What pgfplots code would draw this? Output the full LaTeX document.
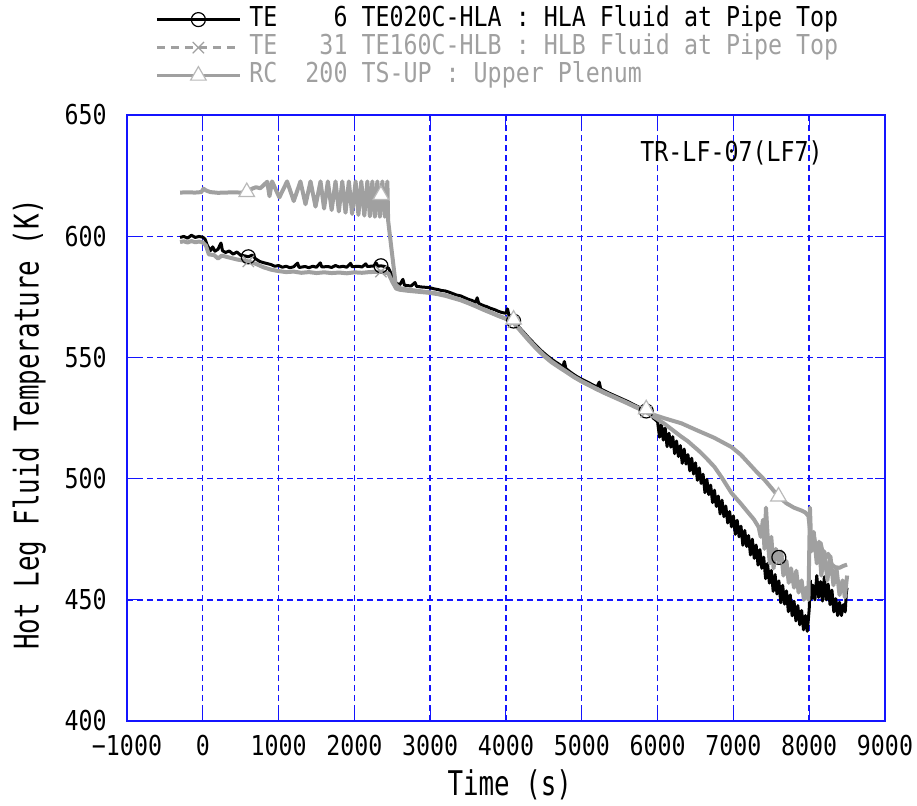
\documentclass[border=0pt]{standalone}
\usepackage{fontspec}
\setmainfont{DejaVu Sans Mono}[FakeStretch=0.85]
\newfontfamily\labfont{DejaVu Sans Mono}[FakeStretch=0.76]
\usepackage{pgfplots}
\pgfplotsset{compat=1.18}
\definecolor{lgray}{RGB}{160,160,160}
\definecolor{tgray}{RGB}{185,185,185}
\definecolor{gblue}{RGB}{20,20,255}
\frenchspacing
\begin{document}
\begin{tikzpicture}[font=\fontsize{13.7}{16}\selectfont]
\path[use as bounding box] (-63.5pt,-42pt) rectangle (395pt,360.5pt);
\begin{axis}[
  scale only axis,
  width=379pt, height=303pt,
  xmin=-1000, xmax=9000, ymin=400, ymax=650,
  xtick={-1000,0,...,9000},
  xticklabels={−1000,0,1000,2000,3000,4000,5000,6000,7000,8000,9000},
  ytick={400,450,...,650},
  /pgf/number format/assume math mode=true,
  axis line style={gblue, line width=0.6pt},
  tick style={gblue, line width=0.5pt},
  major tick length=5pt,
  grid=major,
  major grid style={color=gblue, line width=0.7pt, dash pattern=on 3pt off 2pt},
  xticklabel style={anchor=north, inner sep=0pt, yshift=-7pt},
  yticklabel style={anchor=east, inner sep=0pt, xshift=-10pt},
  xlabel={Time (s)},
  ylabel={Hot Leg Fluid Temperature (K)},
  xlabel style={at={(axis description cs:0.505,-0.106)}, anchor=center, font=\labfont\fontsize{17}{20}\selectfont},
  ylabel style={at={(axis description cs:-0.129,0.49)}, anchor=center, font=\labfont\fontsize{17}{20}\selectfont},
  legend style={at={(axis description cs:0,1)}, anchor=south west, xshift=14pt, yshift=13pt,
    draw=none, fill=none, inner sep=0pt, column sep=4pt, row sep=1pt,
    nodes={inner sep=0pt, text height=10pt, text depth=3pt, anchor=west}},
  legend cell align=left,
  legend image code/.code={\draw[mark repeat=2,mark phase=2,#1] plot coordinates {(0pt,0pt) (20.75pt,0pt) (41.5pt,0pt)};},
]
% TE 6 HLA
\addplot[black, line width=1.5pt, line join=round, forget plot] coordinates {
(-300,599.5) (-250,599.9) (-200,599.2) (-150,600.4) (-100,599.5) (-50,599.9) (0,599.6) (30,598.8) (60,596.2)
(100,594.0) (130,595.6) (160,593.8) (200,594.6) (240,597.2) (260,594.0) (300,593.3) (350,593.9) (400,592.6)
(450,593.5) (500,592.1) (550,591.9) (600,591.5) (650,592.2) (700,590.6) (750,589.6) (800,589.1) (850,588.7)
(900,588.3) (950,587.6) (1000,587.9) (1050,587.2) (1100,587.6) (1150,587.0) (1200,587.4) (1250,588.9)
(1270,587.1) (1350,587.5) (1400,587.0) (1450,587.6) (1500,587.2) (1550,589.0) (1570,587.3) (1650,587.5)
(1700,587.1) (1750,587.9) (1800,587.3) (1850,587.6) (1900,587.2) (1950,588.8) (1970,587.4) (2050,587.6)
(2100,587.3) (2150,588.6) (2170,587.5) (2250,587.7) (2290,588.9) (2310,587.6) (2350,587.8) (2400,587.5) (2450,586.8)
(2500,583.5) (2530,581.0) (2560,580.5) (2600,580.0) (2640,582.2) (2660,579.8) (2700,579.6) (2750,579.5)
(2800,580.9) (2820,579.3) (2850,579.2) (2900,579.0) (2950,578.9) (3000,578.7) (3050,578.3) (3100,578.0)
(3150,577.6) (3200,577.4) (3250,576.9) (3300,576.3) (3350,575.7) (3400,575.4) (3450,574.7) (3500,574.0)
(3550,573.5) (3600,572.8) (3620,574.6) (3640,572.3) (3700,571.4) (3750,570.9) (3800,570.2) (3850,569.7)
(3900,569.0) (3950,568.5) (4000,568.2) (4020,570.0) (4040,567.2) (4100,565.0) (4150,563.2) (4200,561.5)
(4250,559.8) (4300,558.0) (4350,556.4) (4400,554.8) (4450,553.2) (4500,551.8) (4550,550.5) (4600,549.3)
(4650,548.2) (4700,547.2) (4750,546.1) (4770,548.3) (4790,545.4) (4850,543.9) (4900,542.8) (4950,541.8)
(5000,541.0) (5050,540.2) (5100,539.4) (5150,538.6) (5200,537.8) (5230,539.8) (5250,537.0) (5300,536.2)
(5350,535.4) (5400,534.7) (5450,534.0) (5500,533.3) (5550,532.6) (5600,531.9) (5650,531.1) (5700,530.3)
(5750,529.5) (5800,528.7) (5850,527.9) (5900,526.5) (5950,524.8) (6000,523.5)
(6025,517.1) (6050,522.3) (6075,515.9) (6100,520.9) (6125,513.2) (6150,518.7) (6175,513.0) (6200,517.3)
(6225,510.3) (6250,515.5) (6275,509.1) (6300,513.6) (6325,506.3) (6350,512.2) (6375,506.0) (6400,509.9)
(6425,503.2) (6450,508.4) (6475,501.9) (6500,506.5) (6525,499.3) (6550,504.4) (6575,498.0) (6600,501.8)
(6625,494.2) (6650,499.7) (6675,493.4) (6700,497.3) (6725,490.1) (6750,495.2) (6775,488.5) (6800,492.8)
(6825,485.4) (6850,491.1) (6875,484.3) (6900,488.7) (6925,481.7) (6950,486.4) (6975,480.1) (7000,484.6)
(7025,477.0) (7050,482.8) (7075,476.0) (7100,480.4) (7125,472.5) (7150,478.6) (7175,472.0) (7200,476.5)
(7225,468.5) (7250,475.0) (7275,467.1) (7300,472.6) (7325,464.3) (7350,470.7) (7375,463.0) (7400,467.6)
(7425,458.7) (7450,465.0) (7475,456.9) (7500,462.1) (7525,453.5) (7550,460.4) (7575,452.4) (7600,457.8)
(7625,448.8) (7650,456.0) (7675,448.2) (7700,453.7) (7725,445.1) (7750,452.0) (7775,443.4) (7800,449.4)
(7825,441.3) (7850,447.6) (7875,439.7) (7900,445.6) (7925,437.6) (7950,443.5) (7975,437.0) (8000,446.0)
(8015,458.0) (8030,450.5) (8050,456.0) (8075,450.0) (8100,460.0) (8125,451.0) (8150,457.5) (8175,449.5)
(8200,459.5) (8225,450.0) (8250,456.5) (8275,448.0) (8300,454.0) (8325,445.0) (8350,450.5) (8375,443.5)
(8400,449.0) (8425,443.5) (8450,448.0) (8475,445.0) (8490,453.0) (8500,455.0)
};
% TE 31 HLB
\addplot[lgray, line width=2pt, line join=round, forget plot] coordinates {
(-300,597.6) (-250,597.9) (-200,597.4) (-150,598.0) (-100,597.5) (-50,597.8) (0,597.4) (40,596.2) (80,592.5)
(150,592.2) (200,590.8) (250,592.0) (350,591.2) (450,590.4) (550,589.9) (600,589.6) (700,588.6) (800,587.2)
(900,586.2) (1000,585.6) (1100,585.2) (1200,585.4) (1300,584.9) (1400,585.2) (1500,584.8) (1600,585.1)
(1700,584.8) (1800,585.0) (1900,584.7) (2000,585.1) (2100,584.9) (2200,585.2) (2300,585.3) (2350,585.4)
(2450,584.6) (2500,581.2) (2550,578.4) (2600,577.9) (2700,577.5) (2800,577.2) (2900,576.9) (3000,576.6)
(3100,576.1) (3200,575.4) (3300,574.5) (3400,573.6) (3500,572.4) (3600,571.1) (3700,569.7) (3800,568.4)
(3900,567.1) (4000,565.9) (4100,564.3) (4200,560.6) (4300,557.0) (4400,553.6) (4500,550.6) (4600,548.0)
(4700,545.9) (4800,543.9) (4900,541.8) (5000,540.0) (5100,538.4) (5200,536.8) (5300,535.3) (5400,533.9)
(5500,532.5) (5600,531.1) (5700,529.6) (5800,528.2) (5900,526.5) (6000,524.5) (6100,522.4) (6200,520.0)
(6300,517.6) (6400,515.4) (6487,513.0) (6550,511.3) (6650,508.2) (6751,504.8) (6850,500.3) (6976,494.0)
(7100,489.6) (7200,485.8) (7270,483.2) (7333,480.0) (7360,476.0) (7390,483.0) (7410,471.0) (7430,488.0)
(7460,472.0) (7480,465.0) (7500,476.0) (7530,463.0) (7560,471.0) (7600,466.0) (7630,470.0) (7660,460.0)
(7700,466.0) (7730,457.0) (7760,463.0) (7800,455.0) (7830,462.0) (7860,453.0) (7900,458.0) (7930,450.0)
(7960,455.0) (7990,450.0) (8010,488.0) (8030,470.0) (8060,478.0) (8100,465.0) (8130,474.0) (8160,460.0)
(8200,470.0) (8240,458.0) (8280,468.0) (8320,456.0) (8360,463.0) (8400,452.0) (8440,458.0) (8470,451.0)
(8500,460.0)
};
% RC 200 upper plenum
\addplot[lgray, line width=2pt, line join=round, forget plot] coordinates {
(-300,618.0) (-200,618.1) (-100,618.0) (-20,618.2) (10,619.6) (40,618.9) (100,618.2) (200,617.9) (300,618.0)
(400,618.1) (500,618.0) (580,618.2) (650,619.6) (700,620.2) (760,619.8) (850,622.5) (880,616.5) (914,622.6)
(1010,616.0) (1112,622.6) (1200,614.5) (1288,622.6) (1355,613.2) (1421,622.6) (1487,612.2) (1553,622.6)
(1600,611.4) (1650,622.6) (1700,610.8) (1751,622.6) (1795,610.2) (1840,622.6) (1883,609.7) (1927,622.6)
(1970,609.2) (2016,622.6) (2053,608.8) (2091,622.6) (2131,608.5) (2171,622.6) (2204,608.2) (2237,622.6)
(2270,608.0) (2303,622.6) (2336,608.0) (2369,622.6) (2402,608.0) (2435,622.6) (2445,606.5) (2545,580.0)
(2600,578.6) (2700,578.0) (2800,577.6) (2900,577.2) (3000,576.8) (3100,576.3) (3200,575.7) (3300,574.8)
(3400,573.8) (3500,572.6) (3600,571.3) (3700,569.9) (3800,568.6) (3900,567.2) (4000,566.0) (4100,564.8)
(4200,561.0) (4300,557.4) (4400,554.0) (4500,551.0) (4600,548.4) (4700,546.2) (4800,544.1) (4900,542.0)
(5000,540.2) (5100,538.6) (5200,537.0) (5300,535.5) (5400,534.1) (5500,532.7) (5600,531.3) (5700,529.8)
(5800,528.4) (5850,527.8) (5950,526.3) (6100,524.8) (6315,522.8) (6500,520.2) (6750,516.8) (6976,513.0)
(7100,509.8) (7200,506.4) (7300,503.0) (7413,499.4) (7500,496.2) (7595,492.6) (7700,489.8) (7800,488.0)
(7900,486.8) (7950,486.0) (7990,484.5) (8010,479.0) (8030,473.0) (8060,476.5) (8100,470.0) (8150,473.5)
(8200,466.5) (8250,469.0) (8300,464.5) (8340,463.5) (8400,463.2) (8450,464.0) (8500,464.5)
};
% markers
\addplot[only marks, mark=o, mark size=3.5pt, mark options={black, line width=0.6pt}, forget plot] coordinates {
(600,591.5) (2350,587.8) (4100,565.0) (5850,527.9) (7600,467.5)};
\addplot[only marks, mark=x, mark size=4pt, mark options={lgray, line width=0.6pt}, forget plot] coordinates {
(600,589.6) (2350,585.4) (4100,564.5) (5850,527.6) (7600,466.0)};
\addplot[only marks, mark=triangle*, mark size=4.5pt, mark options={draw=tgray, fill=white, line width=0.6pt}, forget plot] coordinates {
(580,618.2) (2350,617.0) (4100,565.6) (5850,528.6) (7595,492.6)};
\node at (axis cs:6976,634.5) {TR-LF-07(LF7)};
\addlegendimage{black, line width=1.5pt, mark=o, mark size=3.5pt, mark options={solid, line width=0.6pt, fill=white}}
\addlegendentry{TE\ \ \ \ 6 TE020C-HLA : HLA Fluid at Pipe Top}
\addlegendimage{lgray, line width=1.5pt, dash pattern=on 4pt off 3pt, mark=x, mark size=4pt, mark options={solid, line width=0.6pt}}
\addlegendentry{\textcolor{lgray}{TE\ \ \ 31 TE160C-HLB : HLB Fluid at Pipe Top}}
\addlegendimage{lgray, line width=1.5pt, mark=triangle*, mark size=4.5pt, mark options={solid, draw=tgray, fill=white, line width=0.6pt}}
\addlegendentry{\textcolor{lgray}{RC\ \ 200 TS-UP : Upper Plenum}}
\end{axis}
\end{tikzpicture}
\end{document}
